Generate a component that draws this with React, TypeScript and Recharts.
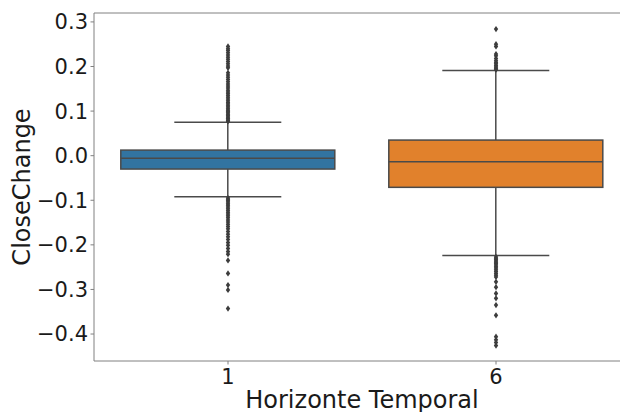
import {
  Bar,
  ComposedChart,
  ReferenceLine,
  Scatter,
  XAxis,
  YAxis,
} from "recharts";

// the page is photographed from its top-left corner
document.body.style.margin = "0";

// horizons on the x axis
const horizons = ["1", "6"];
const boxColors = ["#3274a1", "#e1812c"];

// box stats per horizon: whisker low, q1, median, q3, whisker high
const whiskerLow = [-0.092, -0.224];
const q1 = [-0.03, -0.071];
const median = [-0.006, -0.0135];
const q3 = [0.0125, 0.035];
const whiskerHigh = [0.075, 0.191];

const outliers1 = [
  0.077, 0.079, 0.082, 0.084, 0.087, 0.09, 0.093, 0.096, 0.099, 0.102, 0.105,
  0.109, 0.112, 0.116, 0.119, 0.123, 0.127, 0.131, 0.135, 0.139, 0.143, 0.147,
  0.152, 0.156, 0.161, 0.166, 0.171, 0.176, 0.181, 0.186, 0.197, 0.201, 0.206,
  0.211, 0.216, 0.221, 0.226, 0.231, 0.236, 0.24, 0.245,
  -0.095, -0.098, -0.101, -0.104, -0.108, -0.111, -0.115, -0.119, -0.123,
  -0.127, -0.131, -0.135, -0.139, -0.144, -0.149, -0.154, -0.159, -0.164,
  -0.17, -0.176, -0.182, -0.188, -0.195, -0.201, -0.208, -0.215, -0.221,
  -0.235, -0.264, -0.29, -0.301, -0.343,
];
const outliers6 = [
  0.193, 0.196, 0.199, 0.202, 0.206, 0.209, 0.213, 0.218, 0.224, 0.228, 0.245,
  0.25, 0.284,
  -0.227, -0.23, -0.233, -0.236, -0.239, -0.242, -0.245, -0.249, -0.252,
  -0.256, -0.26, -0.264, -0.268, -0.272, -0.283, -0.295, -0.309, -0.32,
  -0.335, -0.358, -0.406, -0.413, -0.419, -0.426,
];

const yTicks = [-0.4, -0.3, -0.2, -0.1, 0, 0.1, 0.2, 0.3];
const yDomain = [-0.4605, 0.32];

const data = horizons.map((h, i) => ({
  name: h,
  box: [q1[i], q3[i]],
  lo: whiskerLow[i],
  q1: q1[i],
  med: median[i],
  q3: q3[i],
  hi: whiskerHigh[i],
  color: boxColors[i],
}));
const points1 = outliers1.map((v) => ({ name: horizons[0], v }));
const points6 = outliers6.map((v) => ({ name: horizons[1], v }));

const LINE = "#4a4a4a";
const SPINE = "#808080";
const TEXT = "#1a1a1a";
const FONT = "DejaVu Sans, sans-serif";

const fmt = (v: number) => (v < 0 ? "\u2212" : "") + Math.abs(v).toFixed(1);

// box glyph: the bar's own y/height give the value->pixel mapping
function BoxShape(props: any) {
  const { x, y, width, height, payload } = props;
  const top = Math.min(y, y + height);
  const h = Math.abs(height);
  const k = h / (payload.q3 - payload.q1);
  const yOf = (v: number) => top + (payload.q3 - v) * k;
  const cx = x + width / 2;
  const cap = width / 4;
  return (
    <g>
      <line x1={cx} x2={cx} y1={yOf(payload.hi)} y2={top} stroke={LINE} strokeWidth={1.5} />
      <line x1={cx} x2={cx} y1={top + h} y2={yOf(payload.lo)} stroke={LINE} strokeWidth={1.5} />
      <line x1={cx - cap} x2={cx + cap} y1={yOf(payload.hi)} y2={yOf(payload.hi)} stroke={LINE} strokeWidth={1.5} />
      <line x1={cx - cap} x2={cx + cap} y1={yOf(payload.lo)} y2={yOf(payload.lo)} stroke={LINE} strokeWidth={1.5} />
      <rect x={x} y={top} width={width} height={h} fill={payload.color} stroke={LINE} strokeWidth={1.5} />
      <line x1={x} x2={x + width} y1={yOf(payload.med)} y2={yOf(payload.med)} stroke={LINE} strokeWidth={1.5} />
    </g>
  );
}

function Diamond(props: any) {
  const { cx, cy } = props;
  if (cx == null || cy == null) return <g />;
  return (
    <polygon
      points={`${cx},${cy - 3.1} ${cx + 2.2},${cy} ${cx},${cy + 3.1} ${cx - 2.2},${cy}`}
      fill="#3d3d3d"
    />
  );
}

export default function App() {
  return (
    <div style={{ width: 620, height: 412, overflow: "hidden", background: "#fff" }}>
      <ComposedChart
        width={620}
        height={412}
        data={data}
        barCategoryGap="10%"
        margin={{ top: 13, right: -10, left: 0, bottom: 0 }}
        style={{ fontFamily: FONT }}
      >
        <XAxis
          dataKey="name"
          type="category"
          allowDuplicatedCategory={false}
          height={51}
          stroke={SPINE}
          tickSize={3.5}
          tickMargin={4.5}
          tick={{ fill: TEXT, fontSize: 21, fontFamily: FONT }}
          label={{
            content: (p: any) => (
              <text
                x={p.viewBox.x + p.viewBox.width / 2}
                y={p.viewBox.y + 46.5}
                textAnchor="middle"
                fontSize={24}
                fill={TEXT}
              >
                Horizonte Temporal
              </text>
            ),
          }}
        />
        <YAxis
          type="number"
          domain={yDomain}
          allowDataOverflow
          ticks={yTicks}
          tickFormatter={fmt}
          width={94}
          stroke={SPINE}
          tickSize={3.5}
          tickMargin={2.5}
          tick={{ fill: TEXT, fontSize: 21, fontFamily: FONT }}
          label={{
            content: (p: any) => (
              <text
                x={p.viewBox.x + 22}
                y={p.viewBox.y + p.viewBox.height / 2}
                transform={`rotate(-90 ${p.viewBox.x + 22} ${p.viewBox.y + p.viewBox.height / 2})`}
                textAnchor="middle"
                dominantBaseline="central"
                fontSize={24}
                fill={TEXT}
              >
                CloseChange
              </text>
            ),
          }}
        />
        {/* top spine */}
        <ReferenceLine y={yDomain[1]} stroke={SPINE} strokeWidth={1} />
        <Bar dataKey="box" shape={BoxShape} isAnimationActive={false} />
        <Scatter data={points1} dataKey="v" shape={Diamond} isAnimationActive={false} />
        <Scatter data={points6} dataKey="v" shape={Diamond} isAnimationActive={false} />
      </ComposedChart>
    </div>
  );
}
